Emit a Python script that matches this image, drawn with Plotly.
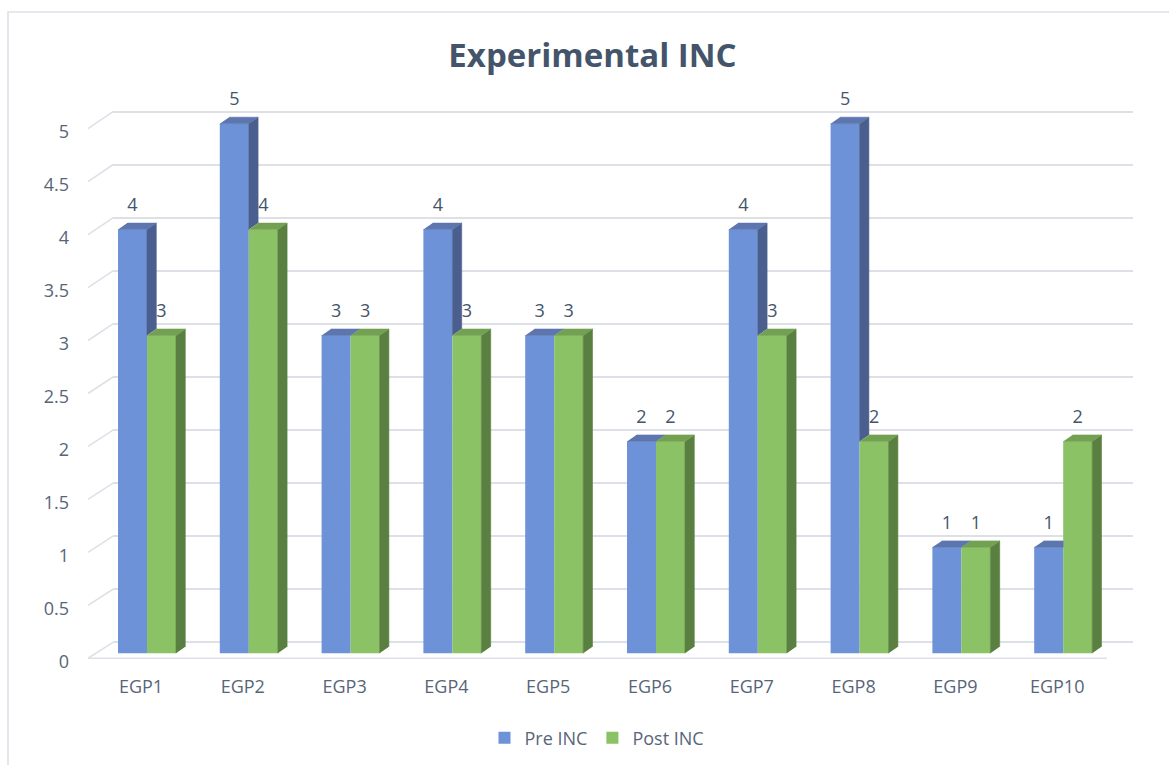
import plotly.graph_objects as go

# ---------------- data ----------------
categories = ["EGP1", "EGP2", "EGP3", "EGP4", "EGP5", "EGP6", "EGP7", "EGP8", "EGP9", "EGP10"]
pre_inc = [4, 5, 3, 4, 3, 2, 4, 5, 1, 1]
post_inc = [3, 4, 3, 3, 3, 2, 3, 2, 1, 2]
y_ticks = [0, 0.5, 1, 1.5, 2, 2.5, 3, 3.5, 4, 4.5, 5]
y_tick_labels = ["0", "0.5", "1", "1.5", "2", "2.5", "3", "3.5", "4", "4.5", "5"]
series_names = ["Pre INC", "Post INC"]
title_text = "Experimental INC"

# ---------------- geometry (pixels) ----------------
W, H = 1169, 765
STEP = 101.8      # px per category
C0 = 147.0        # px centre of first category
UNIT = 106.2      # px per value unit (bar face plane)
BASE = 655.0      # px of value 0 (bar face plane)
BACK_UNIT = 106.4
BACK_BASE = 644.0 # px of value 0 on back wall
BAR_PX = 29.0
DEPTH_X, DEPTH_Y = 9.3, 6.5
FRONT_LEFT, BACK_LEFT, FRONT_RIGHT = 88.0, 113.0, 1107.0
FRONT_DROP = 5.0  # front plane lies this many px below bar face plane

def xd(px):
    return (px - C0) / STEP

def ypx_to_data(py):
    return (BASE - py) / UNIT

bw = BAR_PX / STEP
ddx = DEPTH_X / STEP
ddy = DEPTH_Y / UNIT

# colours
BLUE_FRONT = "#6d92d8"
BLUE_SIDE = "#4b5f8f"
BLUE_TOP = "#5d76b0"
GREEN_FRONT = "#8bc265"
GREEN_SIDE = "#5a8041"
GREEN_TOP = "#72a151"
GRID = "#dde1e7"
TEXT = "#44546a"
TICK = "#586579"

FONT = "Open Sans"

fig = go.Figure()

# back wall subplot (x / y) - only gridlines
fig.add_trace(go.Scatter(x=[None], y=[None], xaxis="x", yaxis="y",
                         showlegend=False, hoverinfo="skip"))

idx = list(range(len(categories)))

# front faces as bars
fig.add_trace(go.Bar(x=idx, y=pre_inc, width=bw, offset=-bw, name=series_names[0],
                     marker=dict(color=BLUE_FRONT, line=dict(width=0)),
                     xaxis="x2", yaxis="y2", hoverinfo="y"))
fig.add_trace(go.Bar(x=idx, y=post_inc, width=bw, offset=0, name=series_names[1],
                     marker=dict(color=GREEN_FRONT, line=dict(width=0)),
                     xaxis="x2", yaxis="y2", hoverinfo="y"))

# 3D side and top faces
blue_side_x, blue_side_y, blue_top_x, blue_top_y = [], [], [], []
green_side_x, green_side_y, green_top_x, green_top_y = [], [], [], []
for i, (b, g) in enumerate(zip(pre_inc, post_inc)):
    xl = i - bw
    xm = i
    xr = i + bw
    # blue side, visible only above the green bar
    if b > g:
        blue_side_x += [xm, xm, xm + ddx, xm + ddx, None]
        blue_side_y += [g, b, b + ddy, g + ddy, None]
    # blue top
    if g > b:
        blue_top_x += [xl, xm, xm, xl + ddx, None]
        blue_top_y += [b, b, b + ddy, b + ddy, None]
    else:
        blue_top_x += [xl, xm, xm + ddx, xl + ddx, None]
        blue_top_y += [b, b, b + ddy, b + ddy, None]
    # green side and top
    green_side_x += [xr, xr, xr + ddx, xr + ddx, None]
    green_side_y += [0, g, g + ddy, ddy, None]
    green_top_x += [xm, xr, xr + ddx, xm + ddx, None]
    green_top_y += [g, g, g + ddy, g + ddy, None]

for xs, ys, col in [(blue_side_x, blue_side_y, BLUE_SIDE),
                    (blue_top_x, blue_top_y, BLUE_TOP),
                    (green_side_x, green_side_y, GREEN_SIDE),
                    (green_top_x, green_top_y, GREEN_TOP)]:
    fig.add_trace(go.Scatter(x=xs, y=ys, mode="lines", fill="toself",
                             fillcolor=col, line=dict(color=col, width=0.6),
                             xaxis="x2", yaxis="y2", showlegend=False,
                             hoverinfo="skip"))

# floor front edge and the left diagonals of the gridlines
diag_x, diag_y = [], []
for v in y_ticks:
    yf = v - FRONT_DROP / UNIT
    yb = ypx_to_data(BACK_BASE - v * BACK_UNIT)
    diag_x += [xd(FRONT_LEFT), xd(BACK_LEFT), None]
    diag_y += [yf, yb, None]
diag_x += [xd(FRONT_LEFT), xd(FRONT_RIGHT), None]
diag_y += [-FRONT_DROP / UNIT, -FRONT_DROP / UNIT, None]
fig.add_trace(go.Scatter(x=diag_x, y=diag_y, mode="lines",
                         line=dict(color=GRID, width=1.6),
                         xaxis="x2", yaxis="y2", showlegend=False,
                         hoverinfo="skip"))

# data labels
lab_off = 23.0 / UNIT
fig.add_trace(go.Scatter(x=[i - bw / 2 for i in idx], y=[v + lab_off for v in pre_inc],
                         text=[str(v) for v in pre_inc], mode="text",
                         textfont=dict(family=FONT, size=18, color=TEXT),
                         xaxis="x2", yaxis="y2", showlegend=False,
                         hoverinfo="skip", cliponaxis=False))
fig.add_trace(go.Scatter(x=[i + bw / 2 for i in idx], y=[v + lab_off for v in post_inc],
                         text=[str(v) for v in post_inc], mode="text",
                         textfont=dict(family=FONT, size=18, color=TEXT),
                         xaxis="x2", yaxis="y2", showlegend=False,
                         hoverinfo="skip", cliponaxis=False))

# ---------------- layout ----------------
B_LEFT, B_RIGHT, B_TOP, B_BOTTOM = 80.0, 1145.0, 80.0, 672.0
A_LEFT, A_RIGHT, A_TOP, A_BOTTOM = 113.0, 1133.0, 80.0, 650.0

fig.update_layout(
    width=W, height=H,
    margin=dict(l=0, r=0, t=0, b=0),
    paper_bgcolor="white",
    plot_bgcolor="rgba(0,0,0,0)",
    barmode="overlay",
    font=dict(family=FONT, color=TICK),
    title=dict(text="<b>" + title_text + "</b>", x=592.5 / W, xanchor="center",
               y=1 - 55 / H, yanchor="middle",
               font=dict(family=FONT, size=33, color=TEXT)),
    showlegend=True,
    legend=dict(orientation="h", x=597 / W, xanchor="center", y=1 - 740 / H,
                yanchor="middle", font=dict(family=FONT, size=18, color=TICK),
                bgcolor="rgba(0,0,0,0)", traceorder="normal"),
    xaxis=dict(domain=[A_LEFT / W, A_RIGHT / W], range=[0, 1], visible=False,
               fixedrange=True),
    yaxis=dict(domain=[1 - A_BOTTOM / H, 1 - A_TOP / H],
               range=[(BACK_BASE - A_BOTTOM) / BACK_UNIT, (BACK_BASE - A_TOP) / BACK_UNIT],
               tickvals=y_ticks, showticklabels=False, showgrid=True,
               gridcolor=GRID, gridwidth=1.6, zeroline=False, showline=False,
               ticks="", fixedrange=True),
    xaxis2=dict(domain=[B_LEFT / W, B_RIGHT / W], range=[xd(B_LEFT), xd(B_RIGHT)],
                anchor="y2", tickvals=idx, ticktext=categories, showgrid=False,
                zeroline=False, showline=False, ticks="",
                ticklabelshift=-6, ticklabelstandoff=4,
                tickfont=dict(family=FONT, size=18, color=TICK), fixedrange=True),
    yaxis2=dict(domain=[1 - B_BOTTOM / H, 1 - B_TOP / H],
                range=[ypx_to_data(B_BOTTOM), ypx_to_data(B_TOP)],
                anchor="x2", tickvals=y_ticks, ticktext=y_tick_labels,
                showgrid=False, zeroline=False, showline=False, ticks="",
                ticklabelshift=8, ticklabelstandoff=10,
                tickfont=dict(family=FONT, size=18, color=TICK), fixedrange=True),
    shapes=[dict(type="rect", xref="paper", yref="paper",
                 x0=8 / W, x1=1.02, y0=-0.02, y1=1 - 12 / H,
                 line=dict(color=GRID, width=1.6), fillcolor="rgba(0,0,0,0)",
                 layer="below")],
)

fig.write_html("out.html")
